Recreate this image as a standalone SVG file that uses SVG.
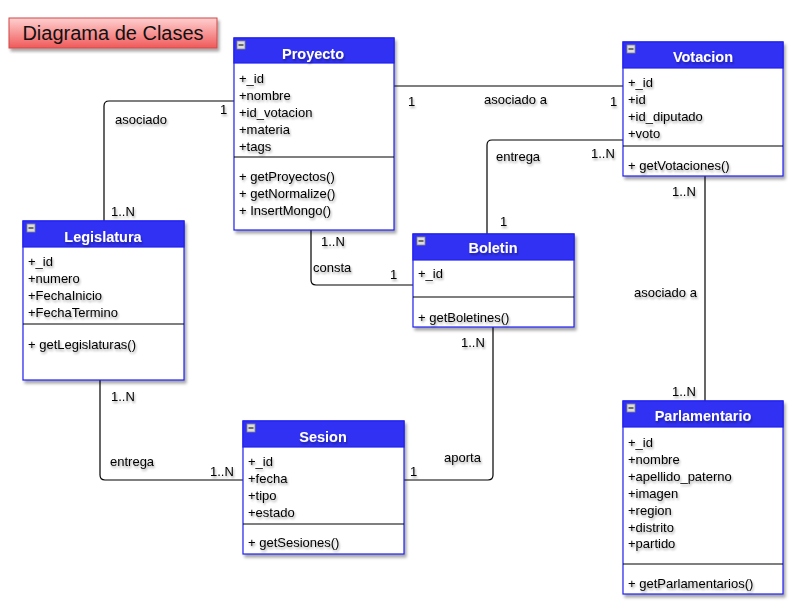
<svg xmlns="http://www.w3.org/2000/svg" width="811" height="609" viewBox="0 0 811 609">
<defs>
<linearGradient id="titleGrad" x1="0" y1="0" x2="0" y2="1">
<stop offset="0" stop-color="#ffd0d0"/>
<stop offset="1" stop-color="#f05a5a"/>
</linearGradient>
<filter id="boxShadow" x="-10%" y="-10%" width="130%" height="130%">
<feDropShadow dx="2" dy="3" stdDeviation="1.5" flood-color="#000" flood-opacity="0.35"/>
</filter>
<filter id="txtShadow" x="-10%" y="-30%" width="130%" height="180%">
<feDropShadow dx="1" dy="2" stdDeviation="1" flood-color="#000" flood-opacity="0.35"/>
</filter>
<g id="minus">
<rect x="0" y="0" width="8" height="8" fill="#ddd" stroke="#888" stroke-width="0.8"/>
<line x1="1.5" y1="4" x2="6.5" y2="4" stroke="#222" stroke-width="1.2"/>
</g>
</defs>
<style>
.box{fill:#fff;stroke:#2222ee;stroke-width:1.2;filter:url(#boxShadow)}
.hdr{fill:#3131f4;stroke:#2222ee;stroke-width:1.2}
.div{stroke:#000;stroke-width:1.2}
.ht{font-family:"Liberation Sans",Arial,sans-serif;font-size:14.5px;font-weight:bold;fill:#fff;text-anchor:middle;filter:url(#txtShadow)}
.t{font-family:"Liberation Sans",Arial,sans-serif;font-size:13px;fill:#000;filter:url(#txtShadow)}
.c{fill:none;stroke:#000;stroke-width:1.2}
</style>
<rect width="811" height="609" fill="#fff"/>

<g id="title">
<rect x="9" y="18" width="208" height="30" fill="url(#titleGrad)" stroke="#d04848" stroke-width="1" filter="url(#boxShadow)"/>
<text x="113" y="40" font-family="Liberation Sans,Arial,sans-serif" font-size="20" text-anchor="middle" fill="#111">Diagrama de Clases</text>
</g>

<g id="connectors">
<path class="c" d="M234,101 H109 Q104,101 104,106 V221"/>
<path class="c" d="M394,86 H623"/>
<path class="c" d="M623,140 H492 Q487,140 487,145 V234"/>
<path class="c" d="M705,176 V402"/>
<path class="c" d="M311,230 V280 Q311,285 316,285 H413"/>
<path class="c" d="M493,327 V475 Q493,480 488,480 H404"/>
<path class="c" d="M100,380 V475 Q100,480 105,480 H243"/>
<text class="t" x="115" y="124">asociado</text>
<text class="t" x="220" y="114">1</text>
<text class="t" x="111" y="216">1..N</text>
<text class="t" x="408" y="106">1</text>
<text class="t" x="484" y="104">asociado a</text>
<text class="t" x="610" y="106">1</text>
<text class="t" x="496" y="161">entrega</text>
<text class="t" x="591" y="158">1..N</text>
<text class="t" x="500" y="226">1</text>
<text class="t" x="672" y="196">1..N</text>
<text class="t" x="634" y="297">asociado a</text>
<text class="t" x="672" y="396">1..N</text>
<text class="t" x="321" y="246">1..N</text>
<text class="t" x="313" y="272">consta</text>
<text class="t" x="390" y="279">1</text>
<text class="t" x="461" y="347">1..N</text>
<text class="t" x="444" y="462">aporta</text>
<text class="t" x="410" y="476">1</text>
<text class="t" x="111" y="401">1..N</text>
<text class="t" x="110" y="466">entrega</text>
<text class="t" x="210" y="476">1..N</text>
</g>

<g id="Proyecto">
<rect class="box" x="234" y="38" width="160" height="192"/>
<rect class="hdr" x="234" y="38" width="160" height="25"/>
<use href="#minus" x="237" y="41"/>
<text class="ht" x="313" y="59">Proyecto</text>
<text class="t" x="239" y="83">+_id</text>
<text class="t" x="239" y="100">+nombre</text>
<text class="t" x="239" y="117">+id_votacion</text>
<text class="t" x="239" y="134">+materia</text>
<text class="t" x="239" y="151">+tags</text>
<line class="div" x1="234" y1="157" x2="394" y2="157"/>
<text class="t" x="239" y="181">+ getProyectos()</text>
<text class="t" x="239" y="198">+ getNormalize()</text>
<text class="t" x="239" y="215">+ InsertMongo()</text>
</g>

<g id="Votacion">
<rect class="box" x="623" y="42" width="160" height="134"/>
<rect class="hdr" x="623" y="42" width="160" height="26"/>
<use href="#minus" x="627" y="45"/>
<text class="ht" x="703" y="62">Votacion</text>
<text class="t" x="628" y="87">+_id</text>
<text class="t" x="628" y="104">+id</text>
<text class="t" x="628" y="121">+id_diputado</text>
<text class="t" x="628" y="138">+voto</text>
<line class="div" x1="623" y1="146" x2="783" y2="146"/>
<text class="t" x="628" y="170">+ getVotaciones()</text>
</g>

<g id="Legislatura">
<rect class="box" x="23" y="221" width="161" height="159"/>
<rect class="hdr" x="23" y="221" width="161" height="26"/>
<use href="#minus" x="27" y="224"/>
<text class="ht" x="103" y="242">Legislatura</text>
<text class="t" x="28" y="266">+_id</text>
<text class="t" x="28" y="283">+numero</text>
<text class="t" x="28" y="300">+FechaInicio</text>
<text class="t" x="28" y="317">+FechaTermino</text>
<line class="div" x1="23" y1="324" x2="184" y2="324"/>
<text class="t" x="28" y="349">+ getLegislaturas()</text>
</g>

<g id="Boletin">
<rect class="box" x="413" y="234" width="161" height="93"/>
<rect class="hdr" x="413" y="234" width="161" height="26"/>
<use href="#minus" x="417" y="237"/>
<text class="ht" x="493" y="253">Boletin</text>
<text class="t" x="418" y="278">+_id</text>
<line class="div" x1="413" y1="297" x2="574" y2="297"/>
<text class="t" x="418" y="322">+ getBoletines()</text>
</g>

<g id="Sesion">
<rect class="box" x="243" y="421" width="161" height="133"/>
<rect class="hdr" x="243" y="421" width="161" height="26"/>
<use href="#minus" x="247" y="424"/>
<text class="ht" x="323" y="442">Sesion</text>
<text class="t" x="248" y="466">+_id</text>
<text class="t" x="248" y="483">+fecha</text>
<text class="t" x="248" y="500">+tipo</text>
<text class="t" x="248" y="517">+estado</text>
<line class="div" x1="243" y1="524" x2="404" y2="524"/>
<text class="t" x="248" y="547">+ getSesiones()</text>
</g>

<g id="Parlamentario">
<rect class="box" x="623" y="401" width="160" height="193"/>
<rect class="hdr" x="623" y="401" width="160" height="26"/>
<use href="#minus" x="627" y="404"/>
<text class="ht" x="703" y="421">Parlamentario</text>
<text class="t" x="628" y="447">+_id</text>
<text class="t" x="628" y="464">+nombre</text>
<text class="t" x="628" y="481">+apellido_paterno</text>
<text class="t" x="628" y="498">+imagen</text>
<text class="t" x="628" y="515">+region</text>
<text class="t" x="628" y="532">+distrito</text>
<text class="t" x="628" y="548">+partido</text>
<line class="div" x1="623" y1="564" x2="783" y2="564"/>
<text class="t" x="628" y="588">+ getParlamentarios()</text>
</g>
</svg>
